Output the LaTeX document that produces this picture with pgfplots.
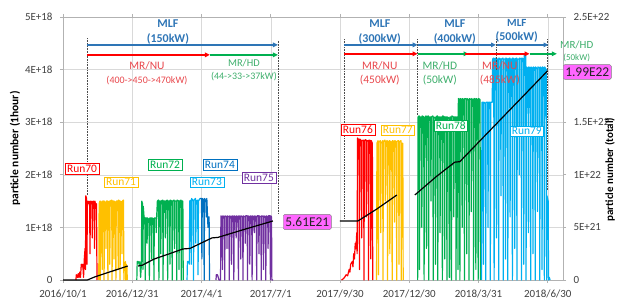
\documentclass[border=0pt]{standalone}
\usepackage{pgfplots}
\pgfplotsset{compat=1.18}
\usepackage{fontspec}
\setmainfont{Carlito}
\usetikzlibrary{arrows.meta}
\definecolor{cred}{HTML}{FF0000}
\definecolor{cyel}{HTML}{FFC000}
\definecolor{cgrn}{HTML}{00B050}
\definecolor{clb}{HTML}{00B0F0}
\definecolor{cblu}{HTML}{0070C0}
\definecolor{cpur}{HTML}{7030A0}
\definecolor{mlfb}{HTML}{2E75B6}
\definecolor{tred}{HTML}{E8474C}
\definecolor{tgrn}{HTML}{3DAE6B}
\definecolor{pinkb}{HTML}{FF66FF}
\definecolor{tick}{HTML}{404040}
\newcommand\fs[1]{\fontsize{#1}{#1}\selectfont}
\tikzset{
  runbox/.style={draw=#1, text=#1, fill=white, inner xsep=2bp, inner ysep=1.5bp, font=\fs{11.5}, line width=0.6bp},
  arr/.style={line width=1.5bp, -{Triangle[length=5bp,width=4.5bp]}},
  vdot/.style={densely dotted, line width=0.6bp, black!70},
  pbox/.style={draw=black!50, fill=pinkb, rounded corners=1.5bp, inner xsep=2bp, inner ysep=3bp, font=\fs{13.5}, text=black!85}
}
\begin{document}
\begin{tikzpicture}
\path[use as bounding box] (-63bp,-20bp) rectangle (556bp,280bp);
\begin{axis}[
  at={(0,0)}, anchor=south west,
  width=500bp, height=263bp, scale only axis,
  xmin=0, xmax=657, ymin=0, ymax=5,
  clip=false,
  xtick={0,91,182,273,364,455,546,637},
  xticklabels={2016/10/1,2016/12/31,2017/4/1,2017/7/1,2017/9/30,2017/12/30,2018/3/31,2018/6/30},
  ytick={0,1,2,3,4,5},
  yticklabels={0,1E+18,2E+18,3E+18,4E+18,5E+18},
  grid=major,
  major grid style={gray!30, line width=0.5bp},
  axis line style={gray!60, line width=0.6bp},
  tick style={gray!60, line width=0.6bp},
  tick align=outside, major tick length=3bp,
  ticklabel style={font=\fs{11}, text=tick},
  xticklabel style={yshift=-3bp},
  yticklabel style={xshift=-4bp},
  ylabel={\bfseries particle number (1hour)},
  ylabel style={font=\fs{11.5}, text=black, at={(axis description cs:-0.096,0.5)}, anchor=center},
  every axis plot/.append style={line width=1.2bp, line join=round},
]
% Run70
\addplot[cred] coordinates {(17,0)(17.5,0.1)(19,0.05)(20,0.12)(21,0.05)(22,0.15)(23,0.05)(24,0.3)(25,0.25)(26,0.3)(27,0.05)(28,0.4)(29,0.6)(29.5,0.2)(30,1.6)(31,1.55)(31.5,0.3)(32,1.5)(33,1.45)(34,1.5)(35,1.4)(35.5,0.5)(36,1.5)(37,1.45)(38,1.5)(38.5,0.8)(39,1.4)(40,1.5)(41,1.45)(41.5,0.6)(42,1.5)(43,1.4)(44,1.45)(44.7,0)};
% Run71
\addplot[cyel] coordinates {(47,0)(47.5,1.45)(48.5,1.5)(49,0)(49.5,1.5)(51,1.45)(51.5,0.2)(52,1.5)(53.5,1.5)(54,0)(54.5,1.5)(56,1.45)(56.5,0.6)(57,1.5)(58.5,1.5)(59,0)(59.5,1.48)(61,1.5)(61.5,0.3)(62,1.5)(64,1.52)(64.5,0)(65,1.5)(66.5,1.5)(67,0.4)(67.5,1.5)(69,1.45)(69.5,0)(70,1.5)(72,1.5)(72.5,0.2)(73,1.52)(74.5,1.5)(75,0)(75.5,1.5)(77,1.48)(77.5,0.5)(78,1.5)(79.5,1.52)(80,0)(80.5,0.3)(81,0.2)(82,0.35)(82.5,0)(83,0.3)(84,0.25)(84.5,0)};
% Run72
\addplot[cgrn] coordinates {(97,0)(97.5,0.35)(99,0.35)(100,0.3)(101,0.35)(102,0.05)(103,0.3)(103.5,1.5)(104.5,1.45)(105,0.2)(105.5,1.4)(106.5,1.2)(107.5,1.18)(108,0)(108.5,1.18)(110,1.18)(110.5,0.7)(111,1.18)(113,1.15)(113.5,0)(114,1.18)(116,1.18)(116.5,0.4)(117,1.18)(119,1.16)(119.5,0)(120,1.18)(122,1.18)(122.5,0.9)(123,1.18)(124,1.5)(125.5,1.52)(126,0)(126.5,1.5)(128,1.5)(128.5,0.5)(129,1.5)(131,1.52)(131.5,0)(132,1.5)(134,1.5)(134.5,0.8)(135,1.5)(137,1.52)(137.5,0)(138,1.5)(140,1.5)(140.5,0.3)(141,1.52)(143,1.5)(143.5,0)(144,1.5)(146,1.52)(146.5,0.6)(147,1.5)(149,1.5)(149.5,0)(150,1.52)(152,1.5)(152.5,0.2)(153,1.5)(155,1.52)(155.5,0)(156,1.5)(157.5,1.5)(158,0)};
% Run73
\addplot[clb] coordinates {(163,0)(163.5,0.35)(165,0.35)(166,0.3)(166.5,1.5)(168,1.52)(168.5,0.3)(169,1.55)(171,1.5)(171.5,0)(172,1.52)(174,1.55)(174.5,0.7)(175,1.5)(177,1.52)(177.5,0.1)(178,1.5)(180,1.55)};
% Run74
\addplot[cblu] coordinates {(180,1.55)(182,1.55)(182.5,0.4)(183,1.55)(185,1.52)(185.5,0)(186,1.55)(188,1.5)(188.5,1.2)(189,1.55)(190.5,1.0)(191,1.2)(192,1.2)(192.5,0)(193,0)};
% Run75
\addplot[cpur] coordinates {(201,0)(201.5,0.1)(203,0.1)(204,0.05)(205,0)(207,0)(207.5,1.22)(209,1.2)(209.5,0.2)(210,1.22)(212,1.2)(212.5,0)(213,1.22)(215,1.2)(215.5,0.6)(216,1.22)(218,1.2)(218.5,0)(219,1.22)(221,1.2)(221.5,0.3)(222,1.22)(224,1.21)(224.5,0)(225,1.22)(227,1.2)(227.5,0.8)(228,1.22)(230,1.2)(230.5,0)(231,1.22)(233,1.21)(233.5,0.4)(234,1.22)(236,1.2)(236.5,0)(237,1.22)(239,1.2)(239.5,0.7)(240,1.22)(242,1.22)(242.5,0)(243,1.22)(245,1.2)(245.5,0.3)(246,1.22)(248,1.21)(248.5,0)(249,1.22)(251,1.2)(251.5,0.9)(252,1.22)(254,1.2)(254.5,0)(255,1.22)(257,1.22)(257.5,0.5)(258,1.22)(260,1.2)(260.5,0)(261,1.22)(263,1.21)(263.5,0.2)(264,1.22)(266,1.2)(266.5,0)(267,1.22)(269,1.2)(269.5,0.6)(270,1.22)(272,1.22)(272.5,0)(273,1.22)(274,1.2)(274.5,0)(276,0)};
% Run76
\addplot[cred] coordinates {(366,0)(368,0.02)(370,0.05)(372,0.1)(374,0.08)(376,0.2)(377,0.15)(378,0.3)(380,0.35)(381,0.25)(382,0.5)(383,0.4)(384,0.7)(385,0.6)(386,0.9)(386.5,0.5)(387,2.7)(389,2.65)(389.5,0.2)(390,2.68)(392,2.65)(392.5,0.8)(393,2.65)(395,2.66)(395.5,0)(396,2.65)(398,2.67)(398.5,1.2)(399,2.65)(401,2.65)(401.5,0)(402,2.66)(404,2.65)(404.5,0.4)(405,2.65)(406.5,2.6)(407,0)};
% Run77
\addplot[cyel] coordinates {(412,0)(412.5,2.6)(414,2.65)(414.5,0.1)(415,2.62)(417,2.65)(417.5,0.9)(418,2.6)(420,2.65)(420.5,0)(421,2.63)(423,2.66)(423.5,1.5)(424,2.62)(426,2.65)(426.5,0)(427,2.62)(429,2.65)(429.5,0.5)(430,2.64)(432,2.62)(432.5,0)(433,2.65)(435,2.63)(435.5,1.1)(436,2.65)(438,2.62)(438.5,0)(439,2.64)(441,2.65)(441.5,0.3)(442,2.62)(444,2.65)(444.5,0)(445,2.6)(446.5,2.6)(447,0)};
% Run78
\addplot[cgrn] coordinates {(466,0)(466.5,3.1)(468,3.12)(468.5,0.2)(469,3.1)(471,3.1)(471.5,1.0)(472,3.12)(474,3.1)(474.5,0)(475,3.08)(477,3.12)(477.5,0.6)(478,3.1)(480,3.12)(480.5,0)(481,3.1)(483,3.1)(483.5,1.5)(484,3.1)(486,3.12)(486.5,0)(487,3.1)(489,3.08)(489.5,0.3)(490,3.1)(492,3.12)(492.5,0)(493,3.1)(495,3.1)(495.5,0.9)(496,3.1)(498,3.1)(498.5,0)(499,3.12)(501,3.1)(501.5,0.4)(502,3.1)(504,3.1)(504.5,0)(505,3.1)(507,3.08)(507.5,0.05)(508,0.05)(508.5,3.1)(510,3.1)(510.5,0)(511,3.12)(513,3.1)(513.5,1.2)(514,3.1)(516,3.1)(516.5,0)(517,3.1)(518.5,3.1)(519,0.2)(519.5,3.45)(521,3.42)(521.5,0)(522,3.45)(524,3.43)(524.5,1.0)(525,3.45)(527,3.42)(527.5,0)(528,3.45)(530,3.44)(530.5,0.5)(531,3.45)(533,3.42)(533.5,0)(534,3.45)(536,3.43)(536.5,1.3)(537,3.45)(539,3.42)(539.5,0)(540,3.45)(542,3.44)(542.5,0.2)(543,3.45)(545,3.42)(545.5,0)(546,3.45)(548,3.43)(548.5,0)};
% Run79
\addplot[clb] coordinates {(550,0)(550.5,3.38)(552,3.38)(552.5,0.3)(553,3.38)(555,3.36)(555.5,0)(556,3.38)(558,3.38)(558.5,1.0)(559,3.38)(561,3.38)(561.5,0)(562,3.38)(564,3.38)(564.5,4.2)(566,4.22)(566.5,0)(567,4.2)(569,4.22)(569.5,0.8)(570,4.2)(572,4.2)(572.5,0)(573,4.22)(575,4.2)(575.5,1.6)(576,4.2)(578,4.22)(578.5,0)(579,4.2)(581,4.2)(581.5,0.4)(582,4.22)(584,4.2)(584.5,0)(585,4.2)(587,4.22)(587.5,1.2)(588,4.2)(590,4.2)(590.5,0)(591,4.22)(593,4.2)(593.5,0.6)(594,4.2)(596,4.22)(596.5,0)(597,4.2)(599,4.2)(599.5,2.0)(600,4.22)(602,4.2)(602.5,0)(603,4.22)(605,4.2)(605.5,0.3)(606,4.3)(608,4.3)(608.5,0)(609,4.05)(611,4.02)(611.5,0.9)(612,4.05)(614,4.03)(614.5,0)(615,4.05)(617,4.02)(617.5,0.5)(618,4.05)(620,4.03)(620.5,0)(621,4.05)(623,4.02)(623.5,1.3)(624,4.05)(626,4.03)(626.5,0)(627,4.05)(629,4.02)(629.5,0.2)(630,4.05)(632,4.03)(632.5,0)(633,4.05)(635,4.0)(635.5,0)(636,1.6)(637.5,1.5)(638,0)(639,0.05)(640,0)};

% dotted boundary lines
\draw[vdot] (axis cs:31.5,4.6) -- (axis cs:31.5,1.6);
\draw[vdot] (axis cs:282.4,4.55) -- (axis cs:282.4,1.27);
\draw[vdot] (axis cs:369,4.58) -- (axis cs:369,1.18);
\draw[vdot] (axis cs:466,4.58) -- (axis cs:466,3.15);
\draw[vdot] (axis cs:570,4.58) -- (axis cs:570,4.0);
\draw[vdot] (axis cs:637,4.58) -- (axis cs:637,1.7);

% arrows
\draw[arr, mlfb] (axis cs:31.5,4.47) -- (axis cs:282.4,4.47);
\draw[arr, cred] (axis cs:31.5,4.28) -- (axis cs:193,4.28);
\draw[arr, cgrn] (axis cs:193,4.28) -- (axis cs:282.4,4.28);
\draw[arr, mlfb] (axis cs:369,4.47) -- (axis cs:466,4.47);
\draw[arr, mlfb] (axis cs:467,4.47) -- (axis cs:569,4.47);
\draw[arr, mlfb] (axis cs:570,4.47) -- (axis cs:638,4.47);
\draw[arr, cred] (axis cs:369,4.30) -- (axis cs:466,4.30);
\draw[arr, cgrn] (axis cs:466,4.30) -- (axis cs:533,4.30);
\draw[arr, cred] (axis cs:528,4.30) -- (axis cs:613,4.30);
\draw[arr, cgrn] (axis cs:613,4.30) -- (axis cs:649,4.30);

% texts
\node[font=\fs{12}\bfseries, text=mlfb] at (axis cs:137.9,4.87) {MLF};
\node[font=\fs{12}\bfseries, text=mlfb] at (axis cs:137.9,4.58) {(150kW)};
\node[font=\fs{11.5}, text=tred] at (axis cs:110.3,4.07) {MR/NU};
\node[font=\fs{10}, text=tred] at (axis cs:110.3,3.80) {(400->450->470kW)};
\node[font=\fs{10.5}, text=tgrn] at (axis cs:237.7,4.13) {MR/HD};
\node[font=\fs{10}, text=tgrn] at (axis cs:237.7,3.86) {(44->33->37kW)};
\node[font=\fs{12}\bfseries, text=mlfb] at (axis cs:416.3,4.87) {MLF};
\node[font=\fs{12}\bfseries, text=mlfb] at (axis cs:416.3,4.58) {(300kW)};
\node[font=\fs{12}\bfseries, text=mlfb] at (axis cs:514.9,4.87) {MLF};
\node[font=\fs{12}\bfseries, text=mlfb] at (axis cs:514.9,4.58) {(400kW)};
\node[font=\fs{11}\bfseries, text=mlfb] at (axis cs:596.3,4.89) {MLF};
\node[font=\fs{12}\bfseries, text=mlfb] at (axis cs:596.3,4.62) {(500kW)};
\node[font=\fs{11.5}, text=tred] at (axis cs:416.3,4.07) {MR/NU};
\node[font=\fs{11.5}, text=tred] at (axis cs:416.3,3.80) {(450kW)};
\node[font=\fs{11.5}, text=tgrn] at (axis cs:495.2,4.07) {MR/HD};
\node[font=\fs{11.5}, text=tgrn] at (axis cs:495.2,3.80) {(50kW)};
\node[font=\fs{11.5}, text=tred] at (axis cs:574,4.07) {MR/NU};
\node[font=\fs{11.5}, text=tred] at (axis cs:574,3.80) {(485kW)};
\node[font=\fs{11}, text=tgrn] at (axis cs:675,4.47) {MR/HD};
\node[font=\fs{9}, text=tgrn] at (axis cs:675,4.22) {(50kW)};

% run labels
\node[runbox=cred] at (axis cs:25,2.11) {Run70};
\node[runbox=cyel] at (axis cs:76.2,1.86) {Run71};
\node[runbox=cgrn] at (axis cs:134,2.19) {Run72};
\node[runbox=clb] at (axis cs:189.1,1.86) {Run73};
\node[runbox=cblu] at (axis cs:206.2,2.19) {Run74};
\node[runbox=cpur] at (axis cs:257.4,1.94) {Run75};
\node[runbox=cred] at (axis cs:387.5,2.85) {Run76};
\node[runbox=cyel] at (axis cs:440,2.85) {Run77};
\node[runbox=cgrn] at (axis cs:509.6,2.93) {Run78};
\node[runbox=clb] at (axis cs:609.4,2.83) {Run79};
\end{axis}

\begin{axis}[
  at={(0,0)}, anchor=south west,
  width=500bp, height=263bp, scale only axis,
  xmin=0, xmax=657, ymin=0, ymax=25,
  clip=false,
  axis x line=none, axis y line*=right,
  ytick={0,5,10,15,20,25},
  yticklabels={0,5E+21,1E+22,1.5E+22,{},2.5E+22},
  axis line style={gray!60, line width=0.6bp},
  tick style={gray!60, line width=0.6bp},
  tick align=outside, major tick length=3bp,
  ticklabel style={font=\fs{11}, text=tick},
  yticklabel style={xshift=4bp},
  ylabel={\bfseries particle number (total)},
  ylabel style={font=\fs{11}, text=black, at={(axis description cs:1.094,0.42)}, anchor=center},
]
\addplot[black, mark=none, line width=1.2bp] coordinates {(0,0)(32,0)(42,0.3)(85,1.33)};
\addplot[black, mark=none, line width=1.2bp] coordinates {(98.5,1.33)(104,1.4)(120,2.0)(140,2.5)(157.6,2.95)(166.8,3.0)(195.7,4.0)(203.6,4.05)(240,4.85)(275.8,5.61)};
\addplot[black, mark=none, line width=1.2bp] coordinates {(363.8,5.61)(387.5,5.61)(412.4,6.75)(438.7,8.08)};
\addplot[black, mark=none, line width=1.2bp] coordinates {(462.3,8.08)(490,9.8)(514.8,11.2)(521.4,11.25)(637,19.9)};
\node[pbox] at (axis cs:321,5.51) {5.61E21};
\node[pbox] at (axis cs:688.9,19.77) {1.99E22};
\end{axis}
\end{tikzpicture}
\end{document}
